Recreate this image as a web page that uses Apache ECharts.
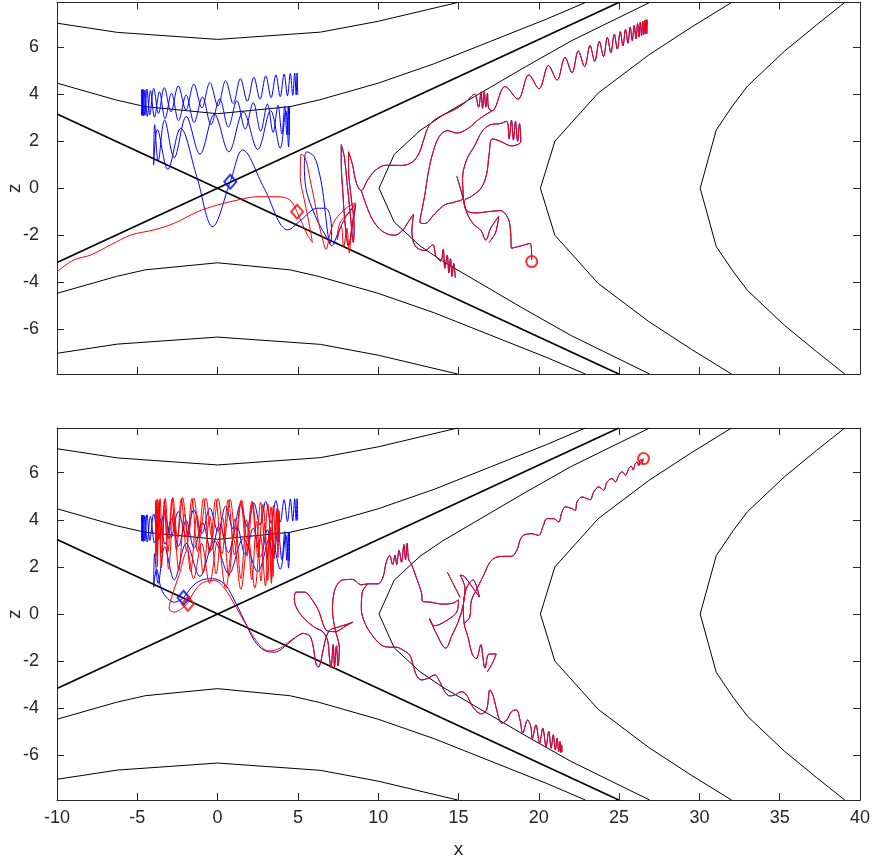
<!DOCTYPE html>
<html><head><meta charset="utf-8">
<script src="https://cdn.jsdelivr.net/npm/echarts@6/dist/echarts.min.js"></script>
<style>html,body{margin:0;padding:0;background:#fff}#c{width:873px;height:859px}</style>
</head><body><div id="c"></div>
<script>
// ---------- axes ----------
const xRange = [-10, 40];
const zRange = [-7.9, 7.9];
const xTickStep = 5;
const zTicks = [-6, -4, -2, 0, 2, 4, 6];

// ---------- contour lines (x, z), shared by both panels ----------
const contourL10Up = [[-10,4.47],[-6.3,3.75],[-4.5,3.47],[0,3.17],[4.5,3.47],[6.3,3.75],[10,4.47],[13.5,5.3],[17,6.25],[20.5,7.2],[22.9,7.9]];
const contourL10Dn = [[-10,-4.47],[-6.3,-3.75],[-4.5,-3.47],[0,-3.17],[4.5,-3.47],[6.3,-3.75],[10,-4.47],[13.5,-5.3],[17,-6.25],[20.5,-7.2],[22.9,-7.9]];
const contourL40Up = [[-10,7.02],[-6.25,6.63],[0,6.33],[6.4,6.64],[10,7.1],[14.95,7.9]];
const contourL40Dn = [[-10,-7.02],[-6.25,-6.63],[0,-6.33],[6.4,-6.64],[10,-7.1],[14.95,-7.9]];
const asymDown = [[-10,3.162],[24.98,-7.9]];
const asymUp = [[-10,-3.162],[24.98,7.9]];
const contourR10 = [[26.9,-7.9],[24.0,-6.93],[22.0,-6.26],[19.0,-5.1],[16.0,-3.9],[14.0,-3.1],[12.6,-2.45],[11.0,-1.44],[10.05,0],[11.0,1.44],[12.6,2.45],[14.0,3.1],[16.0,3.9],[19.0,5.1],[22.0,6.26],[24.0,6.93],[26.9,7.9]];
const contourR40 = [[32.0,-7.9],[29.5,-6.85],[26.85,-5.67],[23.7,-4.05],[21.0,-2.0],[20.1,0],[21.0,2.0],[23.7,4.05],[26.85,5.67],[29.5,6.85],[32.0,7.9]];
const contourR90 = [[39.05,-7.9],[37.3,-6.95],[35.3,-5.83],[33.0,-4.35],[32.1,-3.54],[31.05,-2.48],[30.05,0],[31.05,2.48],[32.1,3.54],[33.0,4.35],[35.3,5.83],[37.3,6.95],[39.05,7.9]];

// ---------- blue trajectory: upper band (both panels) ----------
const blueBandUpper = [[4.48,3.47],[4.45,2.27],[4.4,3.48],[4.31,2.28],[4.18,3.5],[4.0,2.31],[3.76,3.53],[3.46,2.37],[3.1,3.58],[2.68,2.43],[2.22,3.64],[1.72,2.52],[1.2,3.72],[0.67,2.61],[0.13,3.8],[-0.41,2.71],[-0.94,3.88],[-1.46,2.8],[-1.96,3.96],[-2.43,2.88],[-2.87,4.04],[-3.27,2.96],[-3.62,4.1],[-3.93,3.02],[-4.18,4.15],[-4.38,3.06],[-4.53,4.18],[-4.63,3.08],[-4.69,4.19],[-4.72,3.1],
[-4.72,4.2],[-4.68,3.1],[-4.62,4.2],[-4.53,3.1],[-4.4,4.22],[-4.22,3.12],[-3.98,4.25],[-3.68,3.18],[-3.32,4.28],[-2.9,3.25],[-2.45,4.35],[-1.97,3.33],[-1.48,4.43],[-0.98,3.42],[-0.48,4.5],[0.02,3.5],[0.5,4.58],[0.97,3.6],[1.42,4.66],[1.85,3.7],[2.26,4.72],[2.64,3.78],[3.0,4.78],[3.33,3.85],[3.63,4.82],[3.9,3.9],[4.14,4.86],[4.35,3.93],[4.53,4.88],[4.68,3.95],[4.8,4.9],[4.89,3.97],[4.95,4.9],[4.99,3.98]];

// ---------- top panel ----------
const blueTopLower = [[4.48,3.47],[4.42,1.75],[4.25,3.3],[3.9,1.7],[3.3,3.3],[2.5,1.65],[1.6,3.25],[0.7,1.55],[-0.2,3.15],[-1.1,1.45],[-1.95,3.05],[-2.7,1.3],[-3.3,2.9],[-3.7,1.15],[-3.92,2.7],[-3.98,1.0],[-3.75,2.5],[-3.1,0.8],[-2.3,2.55],[-1.3,0.5],[-0.31,-1.63],[0.79,0.28],[1.56,1.63],[2.9,0.0],[4.375,-1.77],[5.2,-1.35],[6.2,-0.85],[6.73,-0.85],[7.05,-1.35],[7.1,-2.0],[7.0,-2.35],[6.8,-1.6],[6.6,-0.4],[6.35,0.6],[6.0,1.35],[5.55,1.55],[5.4,1.0],[5.5,0.0],[5.85,-0.8],[6.3,-1.5],[6.8,-2.1],[7.1,-2.45],[7.5,-1.9],[8.0,-1.2],[8.6,-0.7]];
const redTopTail = [[-10,-3.55],[-8.96,-3.05],[-7.9,-2.84],[-6.67,-2.41],[-5.4,-1.99],[-3.96,-1.77],[-2.7,-1.49],[-1.25,-1.0],[0,-0.71],[1.25,-0.5],[2.5,-0.36],[3.75,-0.36],[4.5,-0.5],[4.95,-1.0]];
const redTopCluster = [[4.95,-1.0],[5.3,-1.55],[5.6,-2.0],[5.9,-2.3],[5.7,-1.5],[5.4,-0.5],[5.15,0.5],[5.2,1.45],[5.45,1.3],[5.75,0.4],[6.05,-0.6],[6.3,-1.5],[6.55,-2.2],[6.75,-2.6],[6.95,-2.1],[7.2,-1.5],[7.6,-1.1],[8.1,-0.8],[8.6,-0.62],[8.2,-1.0],[7.6,-1.5],[7.45,-2.2],[7.7,-1.6],[7.85,-2.5],[8.05,-1.7],[8.2,-2.75],[8.35,-1.6],[8.6,-0.7]];
const sharedTop1 = [[8.6,-0.7],[8.35,-1.8],[8.15,-2.45],[7.95,-1.6],[7.8,-0.2],[7.7,1.1],[7.7,1.85],[7.9,1.3],[8.05,0.3],[8.25,-1.0],[8.45,-2.3],[8.5,-1.6],[8.3,-0.3],[8.15,0.9],[8.15,1.55],[8.4,1.0],[8.65,0.2],[8.95,-0.1],[9.3,0.3],[9.8,0.75],[10.5,0.98],[11.4,0.97],[12.1,1.1],[12.55,1.5],[12.85,2.1],[13.15,2.65],[13.6,2.95],[14.3,3.2],[14.9,3.4],[15.5,3.7],[16.0,4.0],[16.25,3.45],[16.4,4.1],[16.5,3.4],[16.6,4.1],[16.7,3.45],[16.8,4.05],[16.88,3.4],[17.1,3.3],
[17.9,4.33],[18.7,3.79],[19.38,4.82],[20.02,4.23],[20.6,5.22],[21.14,4.6],[21.63,5.57],[22.07,4.91],[22.46,5.84],[22.85,5.17],[23.19,6.07],[23.48,5.4],[23.77,6.25],[24.03,5.6],[24.27,6.42],[24.49,5.77],[24.7,6.55],[24.89,5.92],[25.07,6.66],[25.24,6.05],[25.4,6.76],[25.55,6.17],[25.69,6.86],[25.82,6.28],[25.94,6.93],[26.05,6.36],[26.15,7.0],[26.24,6.43],[26.32,7.06],[26.4,6.49],[26.47,7.11],[26.53,6.53],[26.59,7.14],[26.64,6.56],[26.68,7.16],[26.72,6.58],[26.75,7.17]];
const sharedTop2 = [[17.1,3.3],[16.3,2.95],[15.6,2.55],[14.9,2.35],[14.3,2.45],[13.8,2.2],[13.4,1.5],[13.1,0.6],[12.9,-0.3],[12.7,-1.0],[12.6,-1.45],[12.9,-1.5],[13.5,-1.1],[14.15,-0.7],[14.7,-0.6],[15.3,-0.4],[15.25,0.4],[15.5,1.2],[16.0,1.8],[16.5,2.45],[17.0,2.7],[17.6,2.75],[18.0,2.85],[18.15,2.1],[18.3,2.9],[18.42,2.05],[18.55,2.85],[18.68,2.0],[18.8,2.75],[18.88,2.0],[18.3,1.8],[17.6,2.0],[17.1,2.1],[16.9,1.4],[16.75,0.6],[16.4,0.0],[15.8,-0.35],[15.35,-0.55],[15.5,-0.95],[16.1,-1.05],[16.8,-1.0],[17.6,-0.95],[18.1,-1.3],[18.25,-1.9],[18.3,-2.55],[18.9,-2.45],[19.45,-2.35],[19.55,-2.75],[19.56,-3.05]];
const sharedTop3 = [[8.95,-0.1],[9.3,-0.8],[9.7,-1.4],[10.3,-1.85],[11.0,-2.0],[11.5,-1.8],[11.9,-1.4],[12.2,-1.1],[12.1,-1.8],[12.3,-2.45],[12.9,-2.65],[13.4,-2.4],[13.6,-2.9],[13.9,-3.1],[14.05,-2.6],[14.15,-3.4],[14.3,-2.85],[14.4,-3.6],[14.5,-3.0],[14.6,-3.75],[14.7,-3.2],[14.8,-3.8]];
const sharedTop4 = [[14.9,0.5],[15.2,-0.2],[15.5,-1.0],[15.9,-1.5],[16.4,-1.8],[16.7,-2.2],[17.0,-1.7],[17.5,-1.2],[17.3,-1.9],[16.9,-2.3]];

// ---------- bottom panel ----------
const blueBotLower = [[4.48,3.47],[4.42,1.95],[4.25,3.35],[3.9,1.9],[3.3,3.3],[2.5,1.8],[1.6,3.2],[0.7,1.7],[-0.2,3.1],[-1.1,1.6],[-1.95,3.0],[-2.7,1.45],[-3.3,2.85],[-3.7,1.3],[-3.92,2.56],[-3.98,1.14],[-3.8,1.9],[-3.5,1.05],[-3.1,0.65],[-2.7,0.5],[-2.35,0.58],[-2.12,0.69],[-1.6,1.15],[-1.04,1.43],[-0.31,1.5],[0.42,1.28],[0.94,0.72],[1.67,-0.28],[2.29,-1.13],[2.92,-1.55],[3.54,-1.62],[4.375,-1.27],[5.0,-0.91],[5.29,-0.82]];
const redBotBand = [[-3.85,4.85],[-3.82,3.15],[-3.77,4.88],[-3.69,3.15],[-3.58,4.9],[-3.44,3.2],[-3.26,4.92],[-3.04,3.2],[-2.79,4.95],[-2.5,3.25],[-2.18,4.95],[-1.84,3.25],[-1.48,4.93],[-1.11,3.25],[-0.73,4.92],[-0.35,3.25],[0.03,4.9],[0.41,3.2],[0.78,4.88],[1.14,3.2],[1.49,4.85],[1.82,3.2],[2.13,4.8],[2.42,3.15],[2.68,4.75],[2.92,3.15],[3.13,4.68],[3.31,3.1],[3.47,4.6],[3.6,3.1],[3.7,4.5],[3.77,3.08],[3.82,4.4],[3.85,3.06],
[3.82,4.3],[3.76,2.4],[3.66,4.4],[3.52,2.35],[3.33,4.55],[3.1,2.35],[2.83,4.65],[2.52,2.4],[2.18,4.75],[1.82,2.45],[1.44,4.8],[1.05,2.5],[0.66,4.85],[0.27,2.55],[-0.12,4.88],[-0.5,2.6],[-0.88,4.9],[-1.25,2.65],[-1.6,4.9],[-1.94,2.7],[-2.26,4.9],[-2.56,2.7],[-2.84,4.88],[-3.09,2.65],[-3.31,4.85],[-3.5,2.6],[-3.65,4.83],[-3.76,2.5],[-3.83,4.8],[-3.86,2.45],
[-3.83,4.6],[-3.76,2.0],[-3.65,4.5],[-3.5,1.95],[-3.3,4.4],[-3.05,1.9],[-2.75,4.3],[-2.42,1.85],[-2.06,4.25],[-1.68,1.8],[-1.29,4.2],[-0.89,1.75],[-0.49,4.15],[-0.09,1.7],[0.31,4.1],[0.7,1.6],[1.08,4.05],[1.45,1.5],[1.8,4.0],[2.13,1.45],[2.43,3.95],[2.7,1.4],[2.93,3.85],[3.12,1.43],[3.27,3.7],[3.37,1.5],[3.43,3.5],[3.46,1.6],
[3.43,3.3],[3.35,1.3],[3.2,3.35],[2.98,1.2],[2.68,3.3],[2.32,1.1],[1.9,3.25],[1.45,1.05],[0.98,3.2],[0.5,1.1],[0.0,3.1],[-0.5,1.3],[-1.0,3.0],[-1.5,1.5],[-1.9,2.7],[-2.4,1.64],[-2.8,0.86],[-3.02,0.22],[-2.7,0.08],[-2.3,0.2],[-1.87,0.46],[-1.5,0.9],[-1.0,1.3],[-0.21,1.43],[0.42,1.1],[1.15,0.29],[1.9,-0.6],[2.6,-1.3],[3.2,-1.57],[3.9,-1.45],[4.6,-1.1],[5.29,-0.82]];
const sharedBot1 = [[5.29,-0.82],[5.71,-0.91],[5.92,-1.27],[6.13,-2.12],[6.27,-2.26],[6.44,-1.98],[6.65,-1.27],[6.96,-0.7],[7.48,-0.56],[8.0,-0.45],[8.4,-0.35],[8.0,-0.5],[7.3,-0.75],[6.8,-0.7],[6.55,-0.4],[6.33,0.08],[5.92,0.57],[5.4,0.93],[4.88,0.93],[4.78,0.6],[5.0,0.15],[5.4,-0.2],[6.02,-0.56],[6.54,-0.75],[6.85,-1.13],[6.96,-1.84],[7.06,-2.27],[7.2,-1.3],[7.28,-2.25],[7.4,-1.35],[7.5,-2.2],[7.58,-1.45],[7.3,-0.6],[7.15,0.2],[7.25,0.9],[7.45,1.25],[7.8,1.45],[8.4,1.47],[8.94,1.24],[9.35,1.28],[9.98,1.28],[10.3,1.57],[10.5,2.2],[10.71,2.49],[10.9,2.1],[11.05,2.5],[11.15,2.1],[11.3,2.7],[11.45,2.2],[11.6,2.95],[11.7,2.3],[11.8,3.0],[11.9,2.3],[12.05,2.15],
[12.4,1.5],[12.7,0.9],[12.75,0.55],[13.3,0.5],[14.0,0.42],[14.6,0.45],[15.0,0.6],[14.9,0.1],[14.2,-0.3],[13.5,-0.5],[13.2,-0.2],[13.6,-0.8],[14.2,-1.45],[14.6,-0.9],[15.0,-0.3],[15.3,0.4],[15.4,1.1],[15.1,1.65],[15.35,1.6],[15.8,1.2],[16.3,0.72],[15.9,1.45],[15.5,1.1],[15.3,0.3],[15.35,-0.4],[15.6,-1.0],[15.85,-1.7],[16.1,-1.9],[16.4,-1.3],[16.5,-1.75],[16.65,-2.3],[16.9,-1.7],[17.35,-1.7],[17.1,-2.1],[16.8,-2.45]];
const sharedBot2 = [[14.3,1.78],[15.1,0.71]];
const sharedBotUpperArm = [[15.35,-0.4],[15.7,-0.13],[15.8,0.57],[16.2,1.14],[16.6,1.7],[16.96,2.2],[17.4,2.42],[17.9,2.45],[18.3,2.45],[18.63,2.7],[18.83,3.13],[19.04,3.34],[19.56,3.41],[19.98,3.34],[20.29,3.77],[20.5,4.05],[20.92,4.05],[21.23,3.91],[21.44,4.33],[21.65,4.55],[22.06,4.48],[22.27,4.4],[22.38,4.76],[22.69,4.97],[23.0,4.9],[23.2,4.85],[23.42,5.18],[23.73,5.4],[24.04,5.26],[24.25,5.61],[24.56,5.75],[24.77,5.61],[24.98,5.89],[25.19,6.04],[25.4,5.89],[25.6,6.18],[25.75,6.28],[25.88,6.12],[26.0,6.38],[26.12,6.45],[26.22,6.3],[26.3,6.52],[26.38,6.56],[26.44,6.42],[26.5,6.6]];
const sharedBotLowerArm = [[9.35,1.28],[9.0,0.9],[8.95,0.2],[9.15,-0.35],[9.56,-0.84],[10.2,-1.32],[10.8,-1.41],[11.1,-1.41],[11.54,-1.53],[11.96,-1.74],[12.17,-2.16],[12.375,-2.59],[12.69,-2.8],[13.1,-2.73],[13.52,-2.59],[13.83,-2.87],[14.15,-3.3],[14.46,-3.48],[14.77,-3.44],[15.19,-3.3],[15.5,-3.44],[15.81,-3.86],[16.13,-4.14],[16.44,-4.24],[16.75,-4.07],[16.96,-3.22],[17.17,-3.5],[17.48,-4.36],[17.69,-4.64],[18.0,-4.5],[18.31,-4.14],[18.6,-4.07],[18.83,-4.5],[19.0,-5.06],[19.3,-4.5],[19.5,-4.78],[19.6,-5.28],[19.82,-4.71],[20.05,-5.49],[20.25,-4.85],[20.45,-5.63],[20.62,-4.99],[20.77,-5.7],[20.9,-5.13],[21.03,-5.77],[21.14,-5.28],[21.24,-5.84],[21.32,-5.42],[21.38,-5.88],[21.42,-5.56],[21.45,-5.85]];

// ---------- markers ----------
const blueStartTop = [[0.79,0.28]];
const redStartTop = [[4.95,-1.0]];
const redEndTop = [[19.56,-3.12]];
const blueStartBot = [[-2.12,0.69]];
const redStartBot = [[-1.85,0.44]];
const redEndBot = [[26.52,6.6]];

// ---------- build ----------
const FONT = 'Liberation Sans, Arial, Helvetica, sans-serif';
const AX = '#262626';
const BLUE = '#0000ff', RED = '#ff0000', BLACK = '#000000';
const grids = [
  {left:57, top:2.5, width:803, height:371.5, containLabel:false, outerBoundsMode:'none'},
  {left:57, top:428, width:803, height:372, containLabel:false, outerBoundsMode:'none'}
];
function xAx(g, pos, labels, name){
  return {type:'value', gridIndex:g, position:pos, min:xRange[0], max:xRange[1], interval:xTickStep,
    axisLine:{show:true, onZero:false, lineStyle:{color:AX, width:1}},
    axisTick:{show:true, inside:true, length:7, lineStyle:{color:AX}},
    axisLabel:{show:labels, color:AX, fontSize:18, margin:9, fontFamily:FONT},
    splitLine:{show:false},
    name: name||'', nameLocation:'middle', nameGap:40, nameMoveOverlap:false,
    nameTextStyle:{color:AX, fontSize:19, fontFamily:FONT}};
}
function yAx(g, pos, labels, name){
  return {type:'value', gridIndex:g, position:pos, min:zRange[0], max:zRange[1],
    axisLine:{show:true, onZero:false, lineStyle:{color:AX, width:1}},
    axisTick:{show:true, inside:true, length:7, customValues:zTicks, lineStyle:{color:AX}},
    axisLabel:{show:labels, color:AX, fontSize:18, margin:18, fontFamily:FONT, customValues:zTicks},
    splitLine:{show:false},
    name: name||'', nameLocation:'middle', nameGap:33, nameRotate:90, nameMoveOverlap:false,
    nameTextStyle:{color:AX, fontSize:19, fontFamily:FONT}};
}
const series = [];
function L(data, color, p, width, smooth){
  series.push({type:'line', data, xAxisIndex:p*2, yAxisIndex:p*2, symbol:'none', showSymbol:false,
    smooth: smooth===undefined?0.35:smooth, lineStyle:{color, width:width||1}, silent:true, animation:false});
}
function M(data, sym, size, color, p){
  series.push({type:'scatter', data, xAxisIndex:p*2, yAxisIndex:p*2, symbol:sym, symbolSize:size,
    itemStyle:{color:'rgba(0,0,0,0)', borderColor:color, borderWidth:2}, silent:true, animation:false, z:5});
}
const contours = [contourL10Up, contourL10Dn, contourL40Up, contourL40Dn, contourR10, contourR40, contourR90];
for (const p of [0,1]) {
  contours.forEach(c => L(c, BLACK, p, 1, false));
  L(asymDown, BLACK, p, 1.7, false);
  L(asymUp, BLACK, p, 1.7, false);
}
// top panel
L(blueBandUpper, BLUE, 0);
L(blueTopLower, BLUE, 0);
[sharedTop1, sharedTop2, sharedTop3, sharedTop4].forEach(d => L(d, BLUE, 0));
L(redTopTail, RED, 0);
L(redTopCluster, RED, 0);
[sharedTop1, sharedTop2, sharedTop3, sharedTop4].forEach(d => L(d, RED, 0));
M(blueStartTop, 'diamond', [12,14], BLUE, 0);
M(redStartTop, 'diamond', [12,14], RED, 0);
M(redEndTop, 'circle', 11, RED, 0);
// bottom panel
L(blueBandUpper, BLUE, 1);
L(blueBotLower, BLUE, 1);
[sharedBot1, sharedBot2, sharedBotUpperArm, sharedBotLowerArm].forEach(d => L(d, BLUE, 1));
L(redBotBand, RED, 1);
[sharedBot1, sharedBot2, sharedBotUpperArm, sharedBotLowerArm].forEach(d => L(d, RED, 1));
M(blueStartBot, 'diamond', [12,14], BLUE, 1);
M(redStartBot, 'diamond', [12,14], RED, 1);
M(redEndBot, 'circle', 11, RED, 1);

const chart = echarts.init(document.getElementById('c'), null, {renderer:'canvas'});
chart.setOption({
  backgroundColor:'#ffffff',
  animation:false,
  textStyle:{fontFamily:FONT},
  grid: grids,
  xAxis: [xAx(0,'bottom',false), xAx(0,'top',false), xAx(1,'bottom',true,'x'), xAx(1,'top',false)],
  yAxis: [yAx(0,'left',true,'z'), yAx(0,'right',false), yAx(1,'left',true,'z'), yAx(1,'right',false)],
  series
});
</script></body></html>
